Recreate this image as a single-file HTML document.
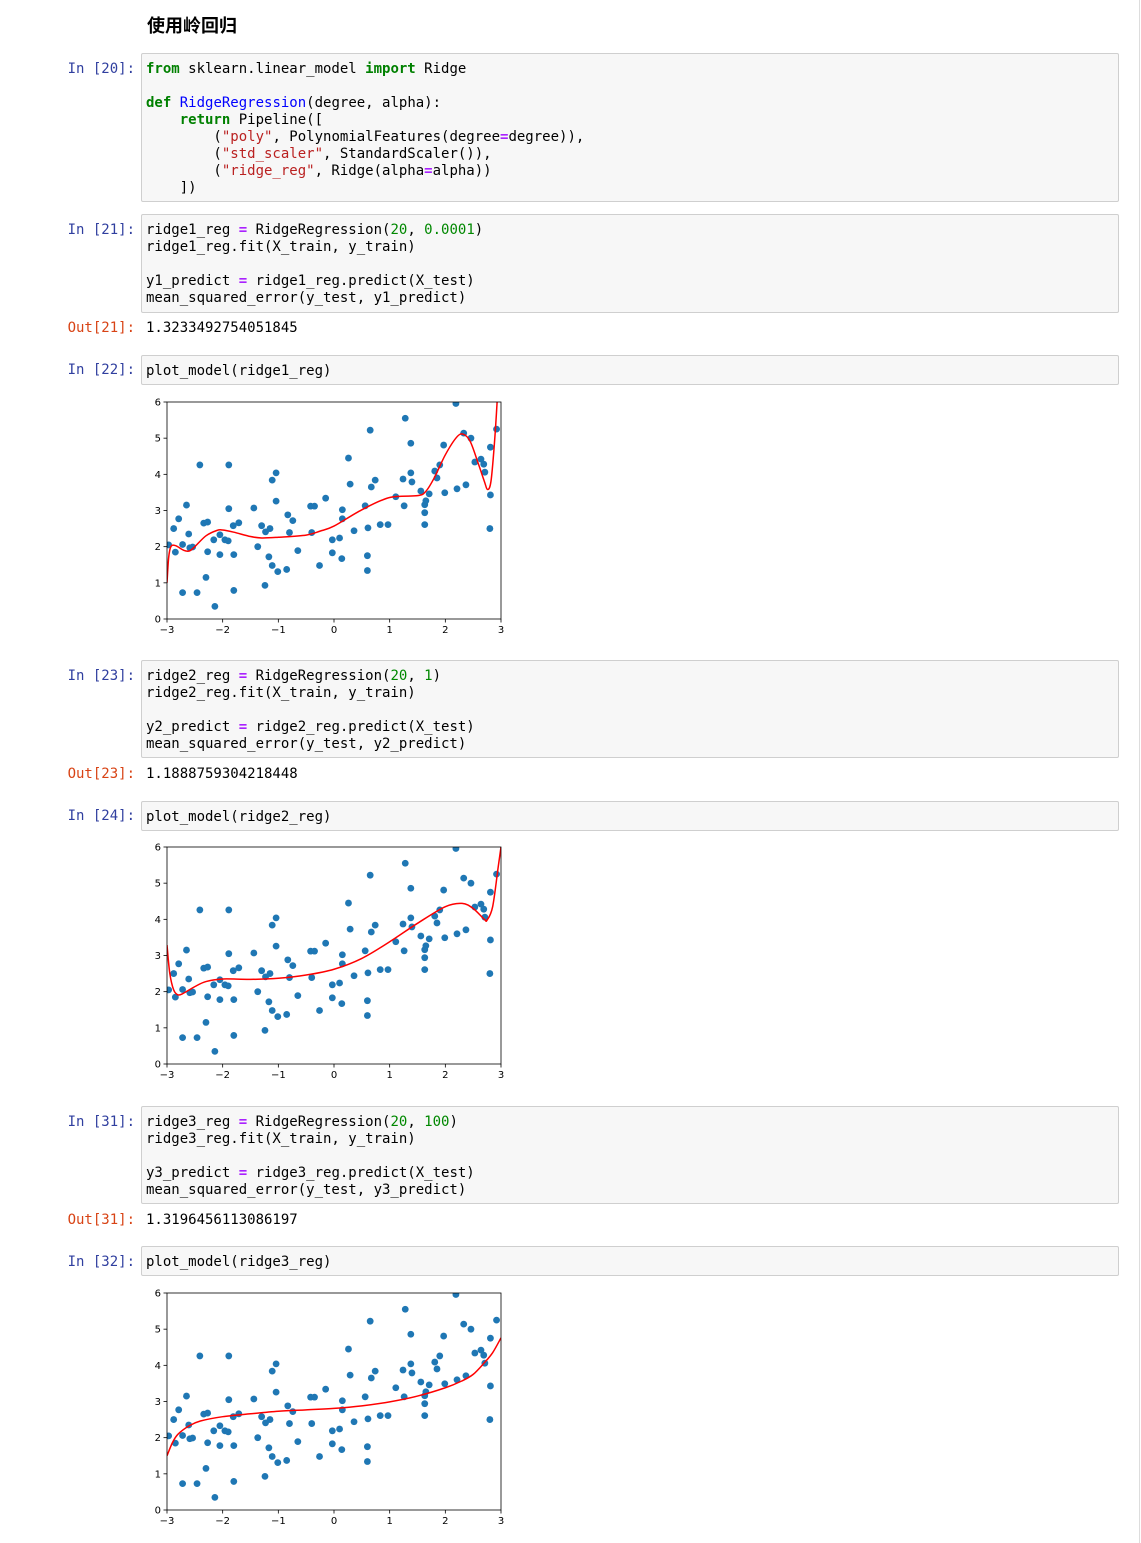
<!DOCTYPE html>
<html><head><meta charset="utf-8">
<style>
body{margin:0;width:1141px;height:1543px;background:#fff;position:relative;overflow:hidden;font-family:"DejaVu Sans Mono","Liberation Mono",monospace;font-size:14px;}
.h{position:absolute;left:147px;top:12px;font:bold 18px "Liberation Sans","Noto Sans CJK SC",sans-serif;color:#000;}
.p{position:absolute;left:40px;width:95px;text-align:right;font-family:"DejaVu Sans Mono","Liberation Mono",monospace;font-size:14px;line-height:17px;}
.pin{color:#303F9F}.pout{color:#D84315}
.box{position:absolute;left:141px;width:978px;background:#f7f7f7;border:1px solid #cfcfcf;border-radius:2px;box-sizing:border-box;}
.box pre{margin:0;padding:7px 4px 6px;font:14px/17px "DejaVu Sans Mono","Liberation Mono",monospace;color:#000;}
.out{position:absolute;left:146px;font:14px/17px "DejaVu Sans Mono","Liberation Mono",monospace;color:#000;}
.k{color:#008000;font-weight:bold}.f{color:#0000FF}.s{color:#BA2121}.n{color:#008800}.o{color:#AA22FF;font-weight:bold}
svg{position:absolute;}
.vline{position:absolute;left:1139px;top:0;width:1px;height:1543px;background:#ddd}
</style></head><body>
<div class="vline"></div>
<div class="h">使用岭回归</div>

<div class="p pin" style="top:61px">In [20]:</div>
<div class="box" style="top:53px;height:149px"><pre><span class="k">from</span> sklearn.linear_model <span class="k">import</span> Ridge

<span class="k">def</span> <span class="f">RidgeRegression</span>(degree, alpha):
    <span class="k">return</span> Pipeline([
        (<span class="s">"poly"</span>, PolynomialFeatures(degree<span class="o">=</span>degree)),
        (<span class="s">"std_scaler"</span>, StandardScaler()),
        (<span class="s">"ridge_reg"</span>, Ridge(alpha<span class="o">=</span>alpha))
    ])</pre></div>

<div class="p pin" style="top:222px">In [21]:</div>
<div class="box" style="top:214px;height:99px"><pre>ridge1_reg <span class="o">=</span> RidgeRegression(<span class="n">20</span>, <span class="n">0.0001</span>)
ridge1_reg.fit(X_train, y_train)

y1_predict <span class="o">=</span> ridge1_reg.predict(X_test)
mean_squared_error(y_test, y1_predict)</pre></div>
<div class="p pout" style="top:320px">Out[21]:</div>
<div class="out" style="top:320px">1.3233492754051845</div>

<div class="p pin" style="top:362px">In [22]:</div>
<div class="box" style="top:355px;height:30px"><pre>plot_model(ridge1_reg)</pre></div>

<div class="p pin" style="top:668px">In [23]:</div>
<div class="box" style="top:660px;height:98px"><pre>ridge2_reg <span class="o">=</span> RidgeRegression(<span class="n">20</span>, <span class="n">1</span>)
ridge2_reg.fit(X_train, y_train)

y2_predict <span class="o">=</span> ridge2_reg.predict(X_test)
mean_squared_error(y_test, y2_predict)</pre></div>
<div class="p pout" style="top:766px">Out[23]:</div>
<div class="out" style="top:766px">1.1888759304218448</div>

<div class="p pin" style="top:808px">In [24]:</div>
<div class="box" style="top:801px;height:30px"><pre>plot_model(ridge2_reg)</pre></div>

<div class="p pin" style="top:1114px">In [31]:</div>
<div class="box" style="top:1106px;height:98px"><pre>ridge3_reg <span class="o">=</span> RidgeRegression(<span class="n">20</span>, <span class="n">100</span>)
ridge3_reg.fit(X_train, y_train)

y3_predict <span class="o">=</span> ridge3_reg.predict(X_test)
mean_squared_error(y_test, y3_predict)</pre></div>
<div class="p pout" style="top:1212px">Out[31]:</div>
<div class="out" style="top:1212px">1.3196456113086197</div>

<div class="p pin" style="top:1254px">In [32]:</div>
<div class="box" style="top:1246px;height:30px"><pre>plot_model(ridge3_reg)</pre></div>

<svg id="plot1" style="left:150px;top:395px" width="360" height="245"></svg>
<svg id="plot2" style="left:150px;top:840px" width="360" height="245"></svg>
<svg id="plot3" style="left:150px;top:1286px" width="360" height="245"></svg>

<script>
const xData=[-2.97,-2.88,-2.85,-2.79,-2.72,-2.72,-2.65,-2.61,-2.59,-2.54,-2.46,-2.41,-2.34,-2.3,-2.27,-2.27,-2.16,-2.14,-2.05,-2.05,-1.96,-1.9,-1.89,-1.89,-1.81,-1.8,-1.8,-1.71,-1.44,-1.37,-1.3,-1.24,-1.23,-1.17,-1.15,-1.11,-1.11,-1.04,-1.04,-1.01,-0.85,-0.83,-0.8,-0.74,-0.65,-0.42,-0.35,-0.26,-0.4,-0.15,-0.03,-0.03,0.1,0.14,0.15,0.15,0.26,0.29,0.36,0.56,0.6,0.6,0.61,0.65,0.67,0.74,0.83,0.97,1.11,1.24,1.26,1.28,1.38,1.38,1.4,1.56,1.63,1.63,1.63,1.65,1.71,1.81,1.85,1.9,1.97,1.99,2.19,2.21,2.33,2.37,2.46,2.53,2.64,2.69,2.71,2.81,2.81,2.8,2.92];
const yData=[2.05,2.5,1.85,2.77,2.06,0.73,3.15,2.35,1.97,1.99,0.73,4.26,2.65,1.15,2.68,1.86,2.19,0.35,2.33,1.78,2.19,2.16,3.05,4.26,2.58,1.78,0.79,2.66,3.07,2.0,2.58,0.93,2.41,1.72,2.5,3.84,1.48,4.04,3.26,1.31,1.37,2.88,2.39,2.72,1.89,3.12,3.12,1.48,2.39,3.34,2.19,1.83,2.24,1.67,3.02,2.77,4.45,3.73,2.44,3.13,1.75,1.34,2.52,5.22,3.65,3.84,2.61,2.61,3.38,3.87,3.13,5.55,4.86,4.04,3.79,3.54,2.61,2.94,3.16,3.27,3.46,4.09,3.9,4.26,4.81,3.49,5.96,3.6,5.14,3.71,5.0,4.34,4.42,4.28,4.06,4.75,3.43,2.5,5.25];

const curve1X=[-3,-2.97,-2.93,-2.85,-2.7,-2.6,-2.5,-2.3,-2.1,-2.0,-1.8,-1.5,-1.3,-1.0,-0.5,-0.25,0,0.5,1,1.5,1.65,1.8,2.0,2.2,2.32,2.45,2.6,2.7,2.76,2.82,2.88,2.93,2.96];
const curve1Y=[1.0,1.7,2.0,2.03,1.9,1.88,2.0,2.3,2.45,2.46,2.4,2.28,2.24,2.26,2.32,2.43,2.57,3.02,3.36,3.41,3.53,3.9,4.54,5.02,5.11,4.9,4.26,3.81,3.58,3.81,4.82,6.0,7.0];
const curve2X=[-3,-2.95,-2.88,-2.8,-2.7,-2.5,-2.3,-2.0,-1.5,-1.0,-0.5,0,0.5,1,1.5,2.0,2.3,2.5,2.7,2.75,2.85,2.95,3.0];
const curve2Y=[3.29,2.51,2.05,1.91,1.96,2.14,2.28,2.35,2.34,2.37,2.46,2.62,2.92,3.38,3.89,4.35,4.44,4.3,4.0,3.98,4.35,5.45,6.0];
const curve3X=[-3,-2.9,-2.8,-2.6,-2.4,-2,-1.5,-1,-0.5,0,0.5,1,1.5,2.0,2.3,2.5,2.7,2.85,3.0];
const curve3Y=[1.5,1.87,2.1,2.33,2.46,2.58,2.66,2.73,2.77,2.81,2.88,2.99,3.15,3.38,3.57,3.75,4.07,4.35,4.76];
const xTicks=[-3,-2,-1,0,1,2,3];
const xTickLabels=["\u22123","\u22122","\u22121","0","1","2","3"];
const yTicks=[0,1,2,3,4,5,6];

const NS="http://www.w3.org/2000/svg";
const L=17,R=351,T=7,B=224;
function sx(v){return L+(v+3)/6*(R-L);}
function sy(v){return B-v/6*(B-T);}
function mk(tag,attrs,parent){const e=document.createElementNS(NS,tag);for(const k in attrs)e.setAttribute(k,attrs[k]);parent.appendChild(e);return e;}

function draw(id,cx,cy,idx){
  const svg=document.getElementById(id);
  const clipId="clip"+idx;
  const defs=mk("defs",{},svg);
  const cp=mk("clipPath",{id:clipId},defs);
  mk("rect",{x:L,y:T,width:R-L,height:B-T},cp);
  const g=mk("g",{"clip-path":"url(#"+clipId+")"},svg);
  
  
  for(let i=0;i<xData.length;i++){
    const c=mk("circle",{cx:sx(xData[i]),cy:sy(yData[i]),r:3.4,fill:"#1f77b4"},g);
    
    
  }
  const pts=cx.map((v,i)=>[sx(v),sy(cy[i])]);
  let d="M"+pts[0][0]+","+pts[0][1];
  for(let i=0;i<pts.length-1;i++){
    const p0=pts[Math.max(0,i-1)],p1=pts[i],p2=pts[i+1],p3=pts[Math.min(pts.length-1,i+2)];
    const c1=[p1[0]+(p2[0]-p0[0])/6,p1[1]+(p2[1]-p0[1])/6];
    const c2=[p2[0]-(p3[0]-p1[0])/6,p2[1]-(p3[1]-p1[1])/6];
    d+=" C"+c1[0]+","+c1[1]+" "+c2[0]+","+c2[1]+" "+p2[0]+","+p2[1];
  }
  const line=mk("path",{d:d,fill:"none",stroke:"#ff0000","stroke-width":1.5},g);
  
  
  const frame=mk("rect",{x:L,y:T,width:R-L,height:B-T,fill:"none",stroke:"#000","stroke-width":0.8},svg);
  
  
  xTicks.forEach((v,i)=>{
    mk("line",{x1:sx(v),x2:sx(v),y1:B,y2:B+3.5,stroke:"#000","stroke-width":0.8},svg);
    const t=mk("text",{x:sx(v),y:B+14,"text-anchor":"middle","font-size":"10","font-family":"DejaVu Sans, sans-serif",fill:"#000"},svg);
    t.textContent=xTickLabels[i];
    
    
  });
  yTicks.forEach(v=>{
    mk("line",{x1:L-3.5,x2:L,y1:sy(v),y2:sy(v),stroke:"#000","stroke-width":0.8},svg);
    const t=mk("text",{x:L-6,y:sy(v)+3.5,"text-anchor":"end","font-size":"10","font-family":"DejaVu Sans, sans-serif",fill:"#000"},svg);
    t.textContent=String(v);
    
    
  });
}
draw("plot1",curve1X,curve1Y,1);
draw("plot2",curve2X,curve2Y,2);
draw("plot3",curve3X,curve3Y,3);
</script>
</body></html>
